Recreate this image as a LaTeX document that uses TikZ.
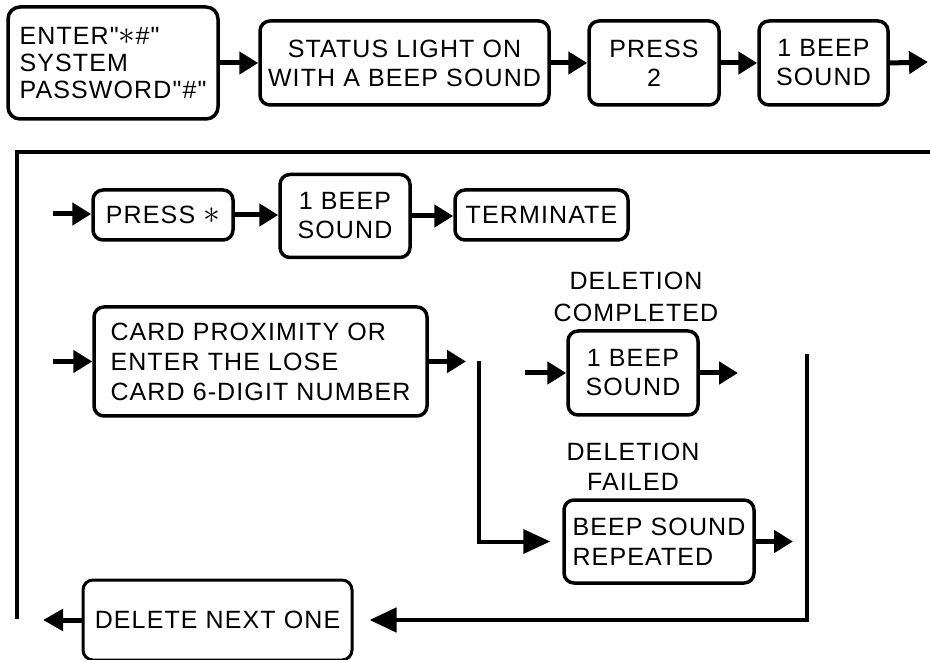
\documentclass[tikz,border=0pt]{standalone}
\usepackage{fontspec}
% no TeX ligature mapping, so " stays a straight quote
\newfontfamily\diagfont{Liberation Sans}[LetterSpace=4.5]
\newcommand\dsize[1]{\diagfont\fontsize{25}{#1}\selectfont}
\newcommand\bigast{\scalebox{1.35}{$\ast$}}
\usetikzlibrary{arrows.meta}
\tikzset{
  txt/.style={font=\dsize{29}},
  box/.style={txt, draw, line width=3.5pt, rounded corners=10pt, inner sep=0pt, align=center},
  lbox/.style={box, align=left},
  flow/.style={line width=5pt, -{Triangle[length=19pt,width=22pt]}},
  bigflow/.style={line width=4.5pt, -{Triangle[length=27pt,width=24pt]}},
  rail/.style={line width=4.5pt},
}
\begin{document}
\begin{tikzpicture}[x=1pt,y=-1pt]
\useasboundingbox (0,0) rectangle (930,660);

% --- top row: entering programming mode
\node[lbox, rounded corners=12pt, minimum width=210pt, minimum height=112pt, font=\dsize{27}] (enter) at (113,63)
  {ENTER"\bigast\#"\\SYSTEM\\PASSWORD"\#"};
\node[box, minimum width=289pt, minimum height=84pt] (status) at (404.5,63)
  {STATUS LIGHT ON\\WITH A BEEP SOUND};
\node[box, minimum width=130pt, minimum height=84pt] (press2) at (654,63) {PRESS\\2};
\node[box, minimum width=129pt, minimum height=84pt] (beepa) at (823.5,63) {1 BEEP\\SOUND};
\coordinate (topout) at (928,62);

\draw[flow] (enter.east) -- (enter.east -| status.west);
\draw[flow] (status.east) -- (status.east -| press2.west);
\draw[flow] (press2.east) -- (press2.east -| beepa.west);
\draw[flow] (beepa.east) -- (topout);

% --- frame on the left
\coordinate (fbot) at (17,619);
\coordinate (ftop) at (17,152);
\coordinate (fright) at (930,152);
\draw[rail] (fbot) -- (ftop) -- (fright);

% --- exit branch
\coordinate (ein) at (53,214);
\node[box, minimum width=140pt, minimum height=50pt] (pressx) at (163,215) {PRESS \bigast};
\node[box, minimum width=130pt, minimum height=83pt] (beepb) at (345,216) {1 BEEP\\SOUND};
\node[box, minimum width=173pt, minimum height=50pt] (term) at (541.5,215) {TERMINATE};
\draw[flow] (ein) -- (ein -| pressx.west);
\draw[flow] (pressx.east) -- (pressx.east -| beepb.west);
\draw[flow] (beepb.east) -- (beepb.east -| term.west);

% --- deletion branch
\coordinate (cin) at (53,361.5);
\node[lbox, minimum width=333pt, minimum height=109pt, font=\dsize{30}] (card) at (260.5,361.5)
  {CARD PROXIMITY OR\\ENTER THE LOSE\\CARD 6-DIGIT NUMBER};
\coordinate (cout) at (466,361.5);
\draw[flow] (cin) -- (card.west);
\draw[flow] (card.east) -- (cout);

\coordinate (fork) at (479,361);
\node[txt, align=center, font=\dsize{32}] (lblok) at (636,297) {DELETION\\COMPLETED};
\node[box, minimum width=130pt, minimum height=84pt] (ok) at (633,373) {1 BEEP\\SOUND};
\coordinate (okin) at (525,373);
\coordinate (okout) at (738,373);
\draw[flow] (okin) -- (ok.west);
\draw[flow] (ok.east) -- (okout);

\node[txt, align=center, font=\dsize{30}] (lblfail) at (633,467) {DELETION\\FAILED};
\node[lbox, minimum width=190pt, minimum height=83pt, font=\dsize{30}] (rep) at (659,541.5)
  {BEEP SOUND\\REPEATED};
\coordinate (repout) at (793,541.5);
\draw[bigflow, line width=4pt] (fork) |- ([xshift=-12pt]rep.west);
\draw[flow] (rep.east) -- (repout);

% --- return path
\coordinate (rtop) at (807,354);
\node[box, line width=3pt, minimum width=269pt, minimum height=80pt] (del) at (217.5,620) {DELETE NEXT ONE};
\coordinate (dout) at (43,620);
\draw[bigflow] (rtop) |- ([xshift=16pt]del.east);
\draw[line width=5pt, -{Triangle[length=20pt,width=21pt]}] (del.west) -- (dout);
\end{tikzpicture}
\end{document}
